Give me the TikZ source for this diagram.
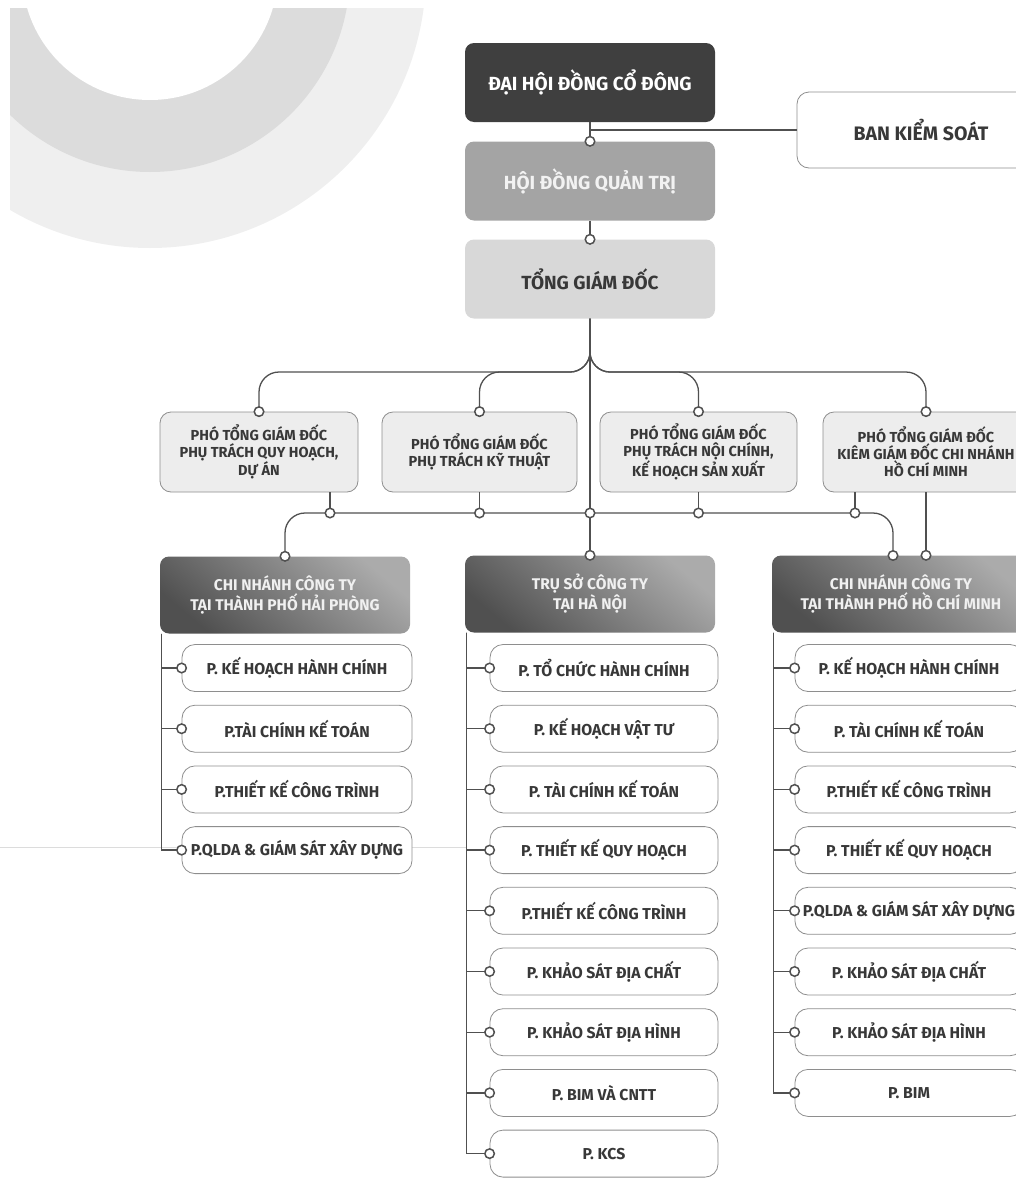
\documentclass[tikz,border=0pt]{standalone}
\usepackage{fontspec}
\setmainfont{Fira Sans}
\usetikzlibrary{arrows.meta}

\definecolor{linec}{HTML}{505050}
\definecolor{boxline}{HTML}{8E8E8E}
\definecolor{txt}{HTML}{383838}
\definecolor{darkfill}{HTML}{3F3F3F}
\definecolor{midfill}{HTML}{A4A4A4}
\definecolor{lightfill}{HTML}{D8D8D8}
\definecolor{palefill}{HTML}{EDEDED}
\definecolor{ringA}{HTML}{DCDCDC}
\definecolor{ringB}{HTML}{EFEFEF}
\definecolor{shadeL}{HTML}{ABABAB}
\definecolor{shadeD}{HTML}{505050}

\tikzset{
  link/.style={draw=linec, line width=1.3pt},
  mk/.style={-{Circle[length=11pt, fill=white, line width=1.5pt]}, shorten >=-5.5pt},
  topbox/.style={rounded corners=9pt, minimum width=250pt, minimum height=79pt,
    align=center, font=\bfseries\fontsize{19}{22}\selectfont},
  sidebox/.style={draw=boxline, fill=white, line width=0.8pt, rounded corners=12pt,
    minimum width=248pt, minimum height=76pt, text=txt,
    font=\bfseries\fontsize{19.5}{22}\selectfont},
  depbox/.style={draw=boxline, fill=palefill, line width=0.8pt, rounded corners=11pt,
    minimum height=80pt, align=center, text=txt, inner sep=2pt,
    font=\bfseries\fontsize{14.5}{17}\selectfont},
  branchbox/.style={rounded corners=9pt, minimum height=77pt, align=center,
    text=white!88!gray, top color=shadeL, bottom color=shadeD, shading angle=-40,
    font=\bfseries\fontsize{15.5}{20}\selectfont},
  unit/.style={draw=boxline, fill=white, line width=0.8pt, rounded corners=13pt,
    minimum height=47pt, text=txt, inner sep=1pt,
    font=\bfseries\fontsize{15.8}{18}\selectfont}
}

\begin{document}
\begin{tikzpicture}[x=1pt,y=-1pt]
\useasboundingbox (0,0) rectangle (1016,1178);

%Shape: background rings
\begin{scope}
\clip (10,8) rectangle (520,300);
\fill[ringB] (150,-28) circle (276pt);
\fill[ringA] (150,-28) circle (200pt);
\fill[white] (150,-28) circle (128pt);
\end{scope}
\draw[ringA, line width=0.8pt] (0,847) -- (467,847);

% Top levels
\node[topbox, fill=darkfill, text=white] (dh) at (590,82.5) {ĐẠI HỘI ĐỒNG CỔ ĐÔNG};
\node[topbox, fill=midfill, text=white!90!gray] (hd) at (590,181) {HỘI ĐỒNG QUẢN TRỊ};
\node[topbox, fill=lightfill, text=txt] (tgd) at (590,279) {TỔNG GIÁM ĐỐC};
\node[sidebox] (bks) at (921,130) {BAN KIỂM SOÁT};

% Deputies
\node[depbox, minimum width=198pt] (p1) at (259,452) {PHÓ TỔNG GIÁM ĐỐC\\PHỤ TRÁCH QUY HOẠCH,\\DỰ ÁN};
\node[depbox, minimum width=195pt] (p2) at (479.5,452) {PHÓ TỔNG GIÁM ĐỐC\\PHỤ TRÁCH KỸ THUẬT};
\node[depbox, minimum width=197pt] (p3) at (698.5,452) {PHÓ TỔNG GIÁM ĐỐC\\PHỤ TRÁCH NỘI CHÍNH,\\KẾ HOẠCH SẢN XUẤT};
\node[depbox, minimum width=206pt] (p4) at (926,452) {PHÓ TỔNG GIÁM ĐỐC\\KIÊM GIÁM ĐỐC CHI NHÁNH\\HỒ CHÍ MINH};

% Branch headers
\node[branchbox, minimum width=250pt] (hph) at (285,595) {CHI NHÁNH CÔNG TY\\TẠI THÀNH PHỐ HẢI PHÒNG};
\node[branchbox, minimum width=250pt] (tsh) at (590,594) {TRỤ SỞ CÔNG TY\\TẠI HÀ NỘI};
\node[branchbox, minimum width=258pt] (hcmh) at (901,594) {CHI NHÁNH CÔNG TY\\TẠI THÀNH PHỐ HỒ CHÍ MINH};

% Departments
\foreach \t [count=\i] in {P. KẾ HOẠCH HÀNH CHÍNH, P.TÀI CHÍNH KẾ TOÁN, P.THIẾT KẾ CÔNG TRÌNH, P.QLDA \& GIÁM SÁT XÂY DỰNG}
  \node[unit, minimum width=230pt] (hp\i) at (297,607.3+60.7*\i) {\t};
\foreach \t [count=\i] in {P. TỔ CHỨC HÀNH CHÍNH, P. KẾ HOẠCH VẬT TƯ, P. TÀI CHÍNH KẾ TOÁN, P. THIẾT KẾ QUY HOẠCH, P.THIẾT KẾ CÔNG TRÌNH, P. KHẢO SÁT ĐỊA CHẤT, P. KHẢO SÁT ĐỊA HÌNH, P. BIM VÀ CNTT, P. KCS}
  \node[unit, minimum width=228pt] (ts\i) at (604,607.3+60.7*\i) {\t};
\foreach \t [count=\i] in {P. KẾ HOẠCH HÀNH CHÍNH, P. TÀI CHÍNH KẾ TOÁN, P.THIẾT KẾ CÔNG TRÌNH, P. THIẾT KẾ QUY HOẠCH, P.QLDA \& GIÁM SÁT XÂY DỰNG, P. KHẢO SÁT ĐỊA CHẤT, P. KHẢO SÁT ĐỊA HÌNH, P. BIM}
  \node[unit, minimum width=228pt] (hcm\i) at (909,607.3+60.7*\i) {\t};

% Junctions
\coordinate (tb) at (590,372);
\coordinate (lb) at (590,513);
\coordinate (j1) at (330,513);
\coordinate (j5) at (855,513);
\coordinate (hcmA) at (893,555.5);

% Connectors, top
\draw[link] (bks.west -| dh.south) -- (bks.west);
\draw[link, mk] (dh.south) -- (hd.north);
\draw[link, mk] (hd.south) -- (tgd.north);
\foreach \p in {p1,p2,p3,p4}
  \draw[link, mk, rounded corners=20pt] (tgd.south) -- (tb) -| (\p.north);

% Connectors, lower bus
\draw[link, mk, rounded corners=20pt] (lb) -| (hph.north);
\draw[link, mk, rounded corners=20pt] (lb) -| (hcmA);
\draw[link, mk] (lb) -- (tsh.north);
\draw[link, mk] (tgd.south) -- (lb);
\draw[link, mk] (p1.south -| j1) -- (j1);
\draw[link, mk] (p2.south) -- (p2.south |- lb);
\draw[link, mk] (p3.south) -- (p3.south |- lb);
\draw[link, mk] (p4.south -| j5) -- (j5);
\draw[link, mk] (p4.south) -- (p4.south |- hcmh.north);

% Spines
\coordinate (hps) at ([xshift=2pt]hph.south west);
\coordinate (tss) at ([xshift=2pt]tsh.south west);
\coordinate (hcms) at ([xshift=2pt]hcmh.south west);
\foreach \i in {1,...,4} \draw[link, mk] (hps) |- (hp\i.west);
\foreach \i in {1,...,9} \draw[link, mk] (tss) |- (ts\i.west);
\foreach \i in {1,...,8} \draw[link, mk] (hcms) |- (hcm\i.west);

\end{tikzpicture}
\end{document}
